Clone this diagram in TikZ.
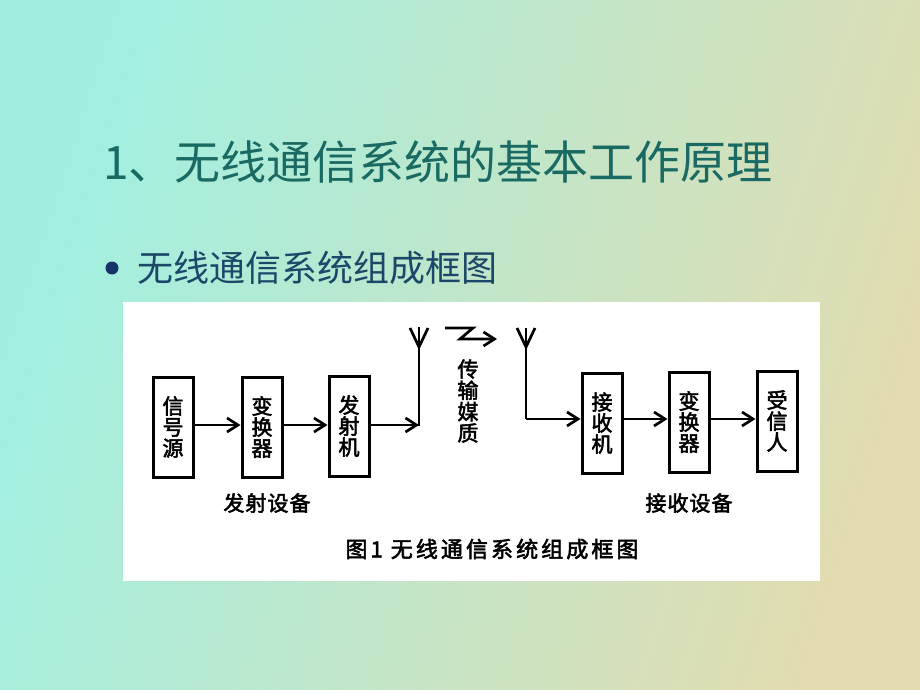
\documentclass[tikz,border=0pt]{standalone}
\usepackage{fontspec}
\newfontfamily\cjk{Noto Sans CJK SC}
\newfontfamily\cjkb[FakeBold=2.5]{Noto Sans CJK SC}
\newfontfamily\cjkbl[FakeBold=2.5,LetterSpace=5]{Noto Sans CJK SC}
\newfontfamily\cjkbc[FakeBold=2.5,LetterSpace=14]{Noto Sans CJK SC}
\usetikzlibrary{arrows.meta}
\definecolor{bgA}{HTML}{A0F0E2}
\definecolor{bgB}{HTML}{E2DCB0}
\definecolor{titlec}{HTML}{1A6A64}
\definecolor{subc}{HTML}{1B4868}
\definecolor{dotc}{HTML}{16336A}
\tikzset{
  blk/.style={draw=black, line width=3pt, minimum width=40pt, minimum height=100pt,
    inner sep=0pt, align=center, font=\cjkb\fontsize{21}{21}\selectfont},
  ln/.style={line width=2.7pt, line join=miter},
  arr/.style={ln, -{Straight Barb[length=11pt,width=14pt]}},
  lbl/.style={font=\cjkbl\fontsize{21}{22}\selectfont, inner sep=0pt},
}
\begin{document}
\begin{tikzpicture}[x=1pt,y=-1pt]
\useasboundingbox (0,0) rectangle (920,690);
\shade[left color=bgA, right color=bgB, shading angle=72] (0,0) rectangle (920,690);
\fill[white] (123,302) rectangle (820,581);
% title and bullet
\node[anchor=west, inner sep=0pt, text=titlec, font=\cjk\fontsize{46}{50}\selectfont] (title) at (103,162) {1、无线通信系统的基本工作原理};
\node[circle, fill=dotc, minimum size=13pt, inner sep=0pt] (dot) at (112,268) {};
\node[anchor=west, inner sep=0pt, text=subc, font=\cjk\fontsize{36}{40}\selectfont] (sub) at (137,268) {无线通信系统组成框图};
% blocks
\node[blk] (src) at (173,427) {信\\号\\源};
\node[blk] (cv1) at (262,427) {变\\换\\器};
\node[blk] (tx)  at (349,426) {发\\射\\机};
\node[blk] (rx)  at (602,423) {接\\收\\机};
\node[blk] (cv2) at (689,422) {变\\换\\器};
\node[blk] (dst) at (777,421) {受\\信\\人};
\draw[arr] (src.east |- 0,425) -- (cv1.west |- 0,425);
\draw[arr] (cv1.east |- 0,425) -- (tx.west |- 0,425);
\draw[arr] (rx.east |- 0,419) -- (cv2.west |- 0,419);
\draw[arr] (cv2.east |- 0,419) -- (dst.west |- 0,419);
% transmit antenna
\coordinate (aL) at (419,425);
\coordinate (aLtop) at (419,328);
\coordinate (aLv) at (419,347);
\draw[arr] (tx.east |- aL) -- (aL);
\draw[ln, line cap=rect] (aL) -- (aLtop);
\draw[ln] (410,328) -- (aLv) -- (428,328);
% receive antenna
\coordinate (aR) at (526,419);
\coordinate (aRtop) at (526,328);
\coordinate (aRv) at (526,347);
\draw[ln] (aRtop) -- (aR);
\draw[arr] (aR) -- (rx.west |- aR);
\draw[ln] (517,328) -- (aRv) -- (535,328);
% medium
\draw[arr] (445,328) -- (473,328) -- (460,339) -- (497,339);
\node[font=\cjkb\fontsize{21}{21.3}\selectfont, align=center, inner sep=0pt] (med) at (468,401) {传\\输\\媒\\质};
% labels
\node[lbl] (txl) at (267,503) {发射设备};
\node[lbl] (rxl) at (689,503) {接收设备};
\node[font=\cjkbc\fontsize{22}{24}\selectfont, inner sep=0pt] (cap) at (492,549) {图1 无线通信系统组成框图};
\end{tikzpicture}
\end{document}
